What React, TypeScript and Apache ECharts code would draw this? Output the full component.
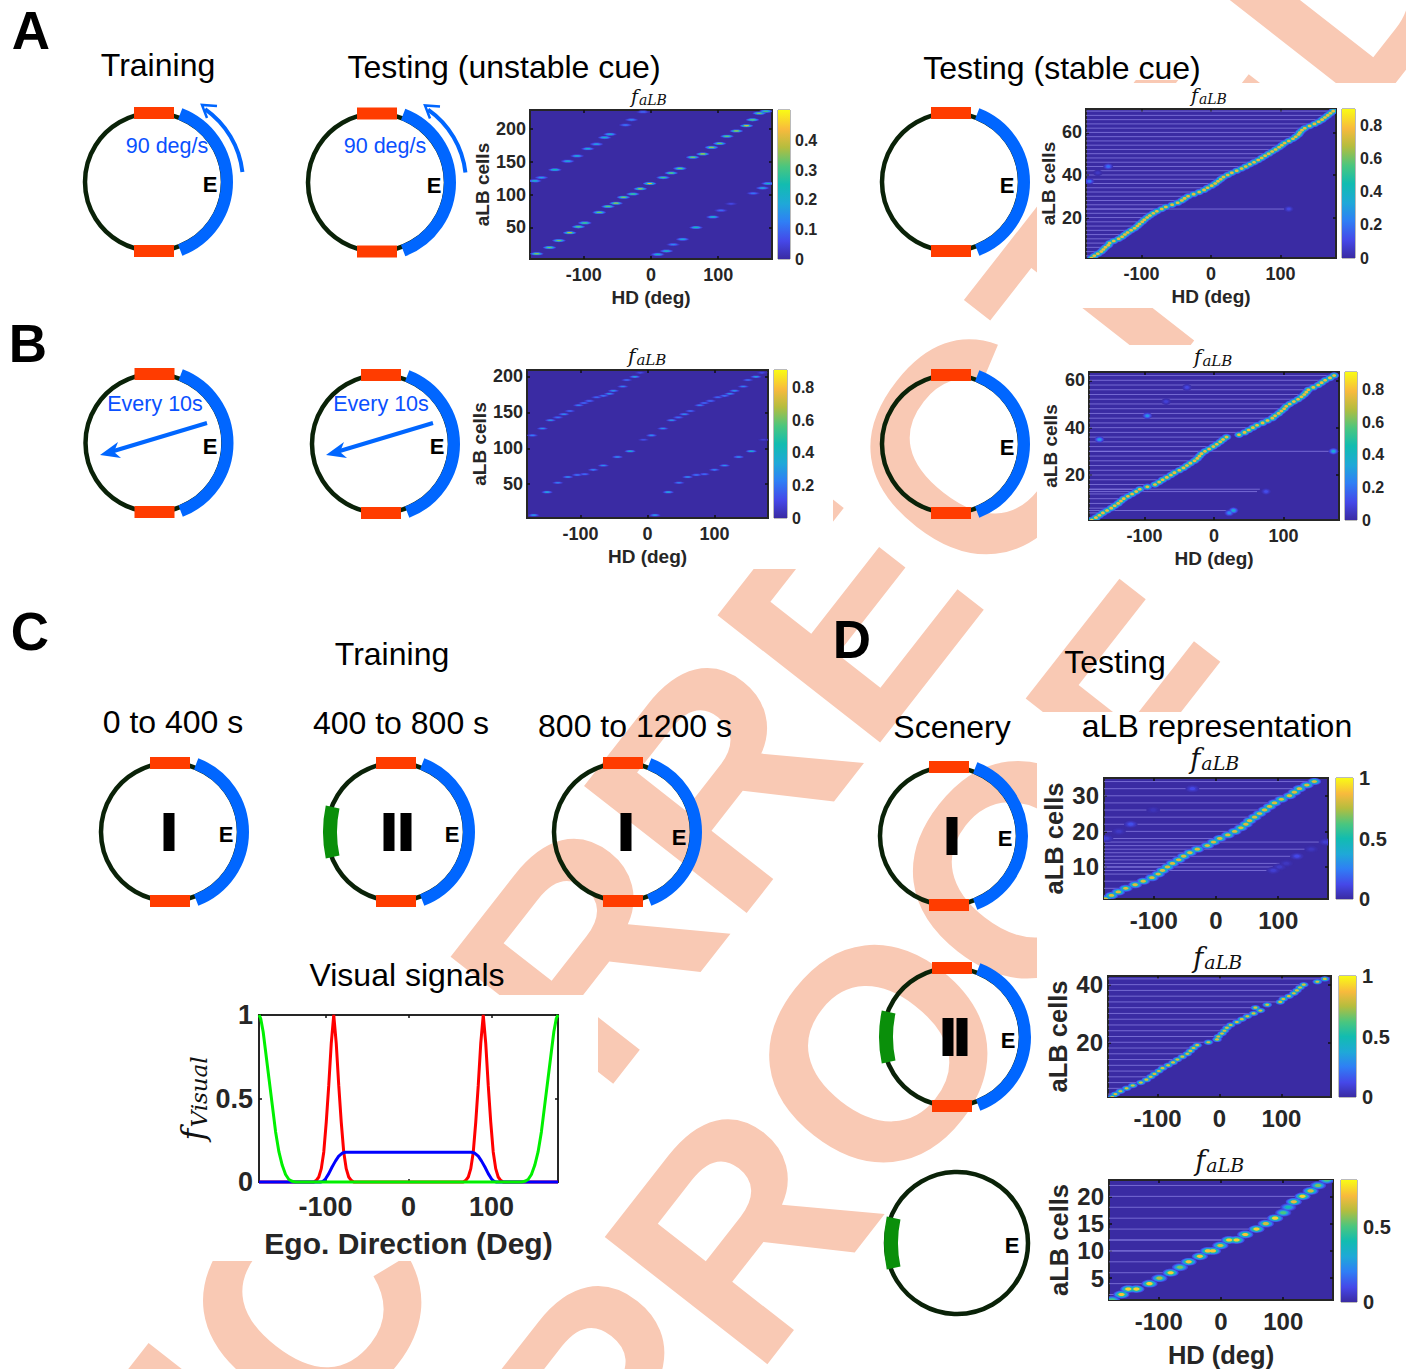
import React, { useEffect, useRef } from "react";
import * as echarts from "echarts";

const SANS = '"Liberation Sans", Arial, sans-serif';
const SERIF = '"DejaVu Serif", serif';

// ---------- data ----------
const hdTicks = [-100, 0, 100];

// A, unstable cue: [HD, cell, value]
const ridgeAU: number[][] = [
  [-170,10,.34],[-151,19.5,.33],[-137,30,.34],[-121,42,.38],[-108,51,.33],[-98.5,57,.3],[-77,73,.33],[-64,82,.32],[-52,87,.36],[-41,96,.35],[-27,101,.3],[-16,109,.38],[-2,117,.42],[18,126,.3],[30,133,.33],[43,140,.33],[62,157,.35],[77,162,.38],[90,172,.36],[102,178,.33],[113,189,.33],[127,197,.36],[142,205,.4],[151,214,.33],[161,224,.35],[171,227,.3],
  [10,9,.22],[23,14,.24],[33,24,.14],[47,32,.2],[67,50,.24],[92,66,.22],[104,76,.1],[119,86,.06],[152,102,.12],[166,110,.2],[174,117,.22],
  [-173,121,.22],[-163,126,.18],[-143,138,.25],[-124,151,.2],[-110,159,.2],[-94,170,.2],[-81,177,.18],[-69,187,.22],[-61,192,.22],[-38,206,.12],[-29,214,.14],[-12,226,.1],
];
// B, unstable cue: [HD, cell, value]
const ridgeBU: number[][] = [
  [-170,7,.3],[-150,39,.35],[-134,52,.25],[-119,60,.3],[-105,63,.22],[-94,64,.2],[-81,70,.25],[-66,76,.28],[-45,88,.3],[-26,96,.42],
  [-172,118,.22],[-157,127.5,.28],[-145,139,.3],[-134,143,.2],[-125,147.5,.28],[-116,152,.2],[-103,160,.25],[-95,163,.2],[-87,166,.2],[-76,171,.2],[-66,173,.22],[-57,176,.3],[-51,180,.3],[-37,186,.25],[-31,195,.2],[-19,199.5,.35],[-11,205,.12],
  [11,7,.3],[31,39,.35],[47,52,.25],[60,60,.3],[73,63,.22],[85,64,.2],[100,70,.25],[115,76,.28],[136,88,.3],[155,96,.42],
  [-6,112,.14],[6,118,.26],[23,127.5,.28],[36,139,.3],[46,143,.2],[55,147.5,.28],[64,152,.2],[78,160,.25],[85,163,.2],[94,166,.2],[105,171,.2],[115,173,.22],[123,176,.3],[130,180,.3],[143,186,.25],[150,195,.2],[162,199.5,.35],[171,205,.12],[173,112,.08],
];
// Stable panels: HD of the peak for cell 1, 2, 3 ...
const peakHdAS = [-172,-168,-163,-158,-155,-152,-148,-146,-140,-133,-128,-124,-120,-115,-110,-106,-103,-99,-96,-92,-88,-83,-78,-71,-65,-56,-48,-42,-38,-33,-25,-17,-10,-5,1,6,10,14,18,24,30,37,44,50,56,62,68,73,78,83,88,93,98,102,106,112,118,122,126,128,131,135,142,149,155,160,164,168,172,176];
const extraAS: number[][] = [[-148,44,.2],[-175,37,.2],[-163,41,.05],[112,24,.1]];
const peakHdBS = [-176,-170,-165,-160,-154,-148,-143,-138,-134,-130,-124,-118,-112,-107,-96,-85,-79,-74,-68,-62,-57,-50,-44,-39,-34,-28,-24,-21,-18,-13,-7,-1,4,9,13,18,36,44,50,56,62,70,77,84,88,93,97,101,104,109,115,121,126,130,133,136,143,150,155,160,167,173];
const extraBS: number[][] = [[-165,35,.3],[-96,45,.28],[172,30,.35],[28,5,.35],[22,4,.25],[-39,57,.1],[-69,51,.08],[75,13,.12]];
const peakHdD1 = [-178,-168,-157,-145,-130,-117,-103,-93,-86,-78,-70,-60,-52,-42,-30,-14,-4,6,19,30,40,48,54,62,70,78,86,94,105,118,126,134,146,158];
const extraD1: number[][] = [[-38,32,.12],[-137,22,.14],[-176,18,.08],[-156,20,.06],[-101,26,.04],[176,17,.08],[153,15,.05],[130,13,.12],[113,11,.05],[102,10,.06],[92,9,.08]];
const peakHdD2 = [-173,-168,-160,-150,-140,-127,-118,-111,-105,-98,-92,-83,-75,-68,-60,-52,-47,-42,-36,-18,-4,-2,4,8,12,18,28,36,45,55,66,58,77,98,103,112,120,125,130,136,158,170];
const ridgeD3: number[][] = [
  [-175,1,.5],[-160,2,.72],[-149,3,.74],[-136,3,.74],[-115,4,.74],[-99,5,.6],[-81,6,.74],[-66,7,.55],[-52,8,.72],[-34,9,.72],[-21,10,.72],[-13,10,.72],[-1,11,.65],[13,12,.74],[25,12,.74],[39,13,.72],[57,14,.74],[72,15,.65],[87,16,.74],[100,17,.5],[108,18,.4],[117,19,.68],[131,20,.74],[144,21,.65],[156,22,.55],[170,23,.5],
];

const visualRed: number[][] = [
  [-180,0],[-114,0],[-111,.01],[-108,.03],[-105,.08],[-102,.18],[-99,.36],[-96,.58],[-93,.83],[-90,1],[-87,.83],[-84,.58],[-81,.36],[-78,.18],[-75,.08],[-72,.03],[-69,.01],[-66,0],
  [66,0],[69,.01],[72,.03],[75,.08],[78,.18],[81,.36],[84,.58],[87,.83],[90,1],[93,.83],[96,.58],[99,.36],[102,.18],[105,.08],[108,.03],[111,.01],[114,0],[180,0],
];
const visualBlue: number[][] = [
  [-180,0],[-106,0],[-103,.004],[-100,.018],[-96,.05],[-92,.09],[-88,.125],[-84,.155],[-80,.172],[-76,.178],
  [76,.178],[80,.172],[84,.155],[88,.125],[92,.09],[96,.05],[100,.018],[103,.004],[106,0],[180,0],
];
const visualGreen: number[][] = [
  [-180,1],[-178,.98],[-175,.9],[-172,.78],[-168,.62],[-164,.46],[-160,.3],[-156,.18],[-152,.1],[-148,.045],[-144,.015],[-140,.004],[-136,0],
  [136,0],[140,.004],[144,.015],[148,.045],[152,.1],[156,.18],[160,.3],[164,.46],[168,.62],[172,.78],[175,.9],[178,.98],[180,1],
];

// ---------- colours ----------
const INK = "#262626";
const RING = "#0a2208";
const RED = "#ff3c00";
const BLUE = "#0066ff";
const GREEN = "#0a8f0a";
const WM = "#f9c9b4";
const parulaStops: [number, string][] = [
  [0, "#3a2ba3"], [.12, "#4548e8"], [.25, "#2f7ff5"], [.37, "#1fa8d8"], [.5, "#12bcb0"],
  [.62, "#4ac67f"], [.75, "#b5bd3e"], [.87, "#f8ba3d"], [1, "#f9fb15"],
];
function parula(t: number): string {
  const v = Math.max(0, Math.min(1, t));
  for (let i = 1; i < parulaStops.length; i++) {
    const [a, ca] = parulaStops[i - 1];
    const [b, cb] = parulaStops[i];
    if (v <= b) {
      const k = (v - a) / (b - a);
      const ch = (c: string, s: number) => parseInt(c.slice(s, s + 2), 16);
      const mix = (s: number) => Math.round(ch(ca, s) + (ch(cb, s) - ch(ca, s)) * k);
      return `rgb(${mix(1)},${mix(3)},${mix(5)})`;
    }
  }
  return "#f9fb15";
}

// ---------- option builders ----------
const grids: any[] = [];
const xAxes: any[] = [];
const yAxes: any[] = [];
const seriesList: any[] = [];
const LAYERS = [{ f: .14, s: 1 }, { f: .32, s: .82 }, { f: .58, s: .62 }, { f: 1, s: .4 }];

function frameAxes(idx: number, cfg: any) {
  const tick = { inside: true, length: cfg.tickLen, lineStyle: { color: "#111", width: 1.5 } };
  const line = { onZero: false, lineStyle: { color: INK, width: 2 } };
  const x = { gridIndex: idx, type: "value", min: cfg.xMin, max: cfg.xMax, splitLine: { show: false }, axisLine: line };
  const y = { gridIndex: idx, type: "value", min: cfg.yMin, max: cfg.yMax, splitLine: { show: false }, axisLine: line };
  const xi = xAxes.length, yi = yAxes.length;
  xAxes.push({
    ...x, position: "bottom",
    axisTick: { ...tick, customValues: cfg.xTicks },
    axisLabel: { customValues: cfg.xTicks, fontFamily: SANS, fontWeight: "bold", fontSize: cfg.font, color: INK, margin: cfg.xMargin },
    name: cfg.xName, nameLocation: "middle", nameGap: cfg.xNameGap,
    nameTextStyle: { fontFamily: SANS, fontWeight: "bold", fontSize: cfg.nameFont, color: INK, verticalAlign: "top" },
  });
  xAxes.push({ ...x, position: "top", axisTick: { ...tick, customValues: cfg.xTicks }, axisLabel: { show: false } });
  yAxes.push({
    ...y, position: "left",
    axisTick: { ...tick, customValues: cfg.yTicks },
    axisLabel: { customValues: cfg.yTicks, fontFamily: SANS, fontWeight: "bold", fontSize: cfg.font, color: INK, margin: cfg.yMargin },
    name: cfg.yName, nameLocation: "middle", nameGap: cfg.yNameGap, nameRotate: 90,
    nameTextStyle: { fontFamily: SANS, fontWeight: "bold", fontSize: cfg.nameFont, color: INK },
  });
  yAxes.push({ ...y, position: "right", axisTick: { ...tick, customValues: cfg.yTicks }, axisLabel: { show: false } });
  return { xi, yi };
}

function heatPanel(p: any) {
  const idx = grids.length;
  grids.push({ left: p.box[0], top: p.box[1], width: p.box[2] - p.box[0], height: p.box[3] - p.box[1], show: true, backgroundColor: parulaStops[0][1], borderColor: INK, borderWidth: 2 });
  const { xi, yi } = frameAxes(idx, {
    xMin: -180, xMax: 180, yMin: p.yMin, yMax: p.yMax, xTicks: hdTicks, yTicks: p.yTicks, tickLen: 3,
    font: p.font, nameFont: p.nameFont, xName: p.xName, yName: "aLB cells",
    xMargin: p.xMargin, yMargin: p.yMargin, xNameGap: p.xNameGap, yNameGap: p.yNameGap,
  });
  if (p.rows) {
    seriesList.push({
      type: "custom", xAxisIndex: xi, yAxisIndex: yi, clip: true, silent: true, z: 2, data: p.rows,
      renderItem: (_: any, api: any) => {
        const a = api.coord([-180, api.value(1)]);
        const b = api.coord([api.value(0), api.value(1)]);
        return { type: "line", shape: { x1: a[0], y1: a[1], x2: b[0], y2: b[1] }, style: { stroke: "rgba(140,130,228,0.72)", lineWidth: 1 } };
      },
    });
  }
  LAYERS.forEach((l, li) => {
    seriesList.push({
      type: "custom", xAxisIndex: xi, yAxisIndex: yi, clip: true, silent: true, z: 3 + li, data: p.points,
      renderItem: (_: any, api: any) => {
        const c = api.coord([api.value(0), api.value(1)]);
        const s = api.size([p.halfW, p.halfH]);
        const v = api.value(2);
        return { type: "ellipse", shape: { cx: c[0], cy: c[1], rx: s[0] * l.s, ry: s[1] * l.s }, style: { fill: parula((v * l.f) / p.cMax), stroke: "none" } };
      },
    });
  });
  colorBar(p);
}

function colorBar(p: any) {
  const idx = grids.length;
  const b = p.bar;
  grids.push({ left: b[0], top: p.box[1], width: b[1] - b[0], height: p.box[3] - p.box[1], show: true, borderColor: "#777", borderWidth: 1, backgroundColor: "transparent" });
  xAxes.push({ gridIndex: idx, type: "value", min: 0, max: 1, show: false });
  yAxes.push({
    gridIndex: idx, type: "value", min: 0, max: p.cMax, position: "right", splitLine: { show: false },
    axisLine: { show: false }, axisTick: { show: false },
    axisLabel: { customValues: p.barTicks, fontFamily: SANS, fontWeight: "bold", fontSize: p.barFont, color: INK, margin: p.barMargin },
  });
  const fill = new echarts.graphic.LinearGradient(0, 1, 0, 0, parulaStops.map(([offset, color]) => ({ offset, color })));
  seriesList.push({
    type: "custom", xAxisIndex: xAxes.length - 1, yAxisIndex: yAxes.length - 1, silent: true, z: 2, data: [[0, p.cMax]],
    renderItem: (_: any, api: any) => {
      const t = api.coord([0, api.value(1)]);
      const o = api.coord([1, api.value(0)]);
      return { type: "rect", shape: { x: t[0], y: t[1], width: o[0] - t[0], height: o[1] - t[1] }, style: { fill } };
    },
  });
}

const toPts = (hd: number[], v: number) => hd.map((h, i) => [h, i + 1, v]);
const toRows = (hd: number[]) => hd.map((h, i) => [h, i + 1]).filter((r) => r[1] % 2 === 0);

const smallA = { font: 18, nameFont: 19, xName: "HD (deg)", xMargin: 7, yMargin: 4, xNameGap: 29, yNameGap: 33, barFont: 16, barMargin: 5 };
heatPanel({ ...smallA, box: [530, 110, 772, 259], yMin: 2, yMax: 229, yTicks: [50, 100, 150, 200], bar: [778, 790], cMax: .505, barTicks: [0, .1, .2, .3, .4], points: ridgeAU, halfW: 10, halfH: 2.4 });
heatPanel({ ...smallA, yNameGap: 28, box: [1086, 109, 1336, 258], yMin: 1, yMax: 71, yTicks: [20, 40, 60], bar: [1342, 1355], cMax: .9, barTicks: [0, .2, .4, .6, .8], points: [...toPts(peakHdAS, .76), ...extraAS], rows: [...toRows(peakHdAS), [112, 24]], halfW: 7, halfH: 1.5 });
heatPanel({ ...smallA, yNameGap: 35, box: [527, 370, 768, 518], yMin: 3, yMax: 209, yTicks: [50, 100, 150, 200], bar: [774, 787], cMax: .91, barTicks: [0, .2, .4, .6, .8], points: ridgeBU, halfW: 8.5, halfH: 1.8 });
heatPanel({ ...smallA, yNameGap: 29, box: [1089, 372, 1339, 520], yMin: 1, yMax: 63.5, yTicks: [20, 40, 60], bar: [1345, 1357], cMax: .91, barTicks: [0, .2, .4, .6, .8], points: [...toPts(peakHdBS, .78), ...extraBS], rows: [...toRows(peakHdBS), [172, 30], [66, 14], [62, 13], [28, 5]], halfW: 7, halfH: 1.4 });

const smallD = { font: 24, nameFont: 25.5, xMargin: 9, yMargin: 5, xNameGap: 42, yNameGap: 37, barFont: 20, barMargin: 6 };
heatPanel({ ...smallD, box: [1104, 778, 1328, 899], yMin: 1, yMax: 35, yTicks: [10, 20, 30], bar: [1336, 1353], cMax: 1, barTicks: [0, .5, 1], points: [...toPts(peakHdD1, .82), ...extraD1], rows: [...toRows(peakHdD1), [176, 17], [153, 15], [130, 13], [113, 11], [102, 10], [92, 9]], halfW: 11, halfH: 1 });
heatPanel({ ...smallD, box: [1108, 976, 1331, 1097], yMin: 1, yMax: 43, yTicks: [20, 40], bar: [1339, 1356], cMax: 1, barTicks: [0, .5, 1], points: toPts(peakHdD2, .82), rows: toRows(peakHdD2), halfW: 8, halfH: .95 });
heatPanel({ ...smallD, xName: "HD (deg)", box: [1109, 1180, 1333, 1302], yMin: 1, yMax: 23, yTicks: [5, 10, 15, 20], bar: [1341, 1357], cMax: .81, barTicks: [0, .5], points: ridgeD3, rows: ridgeD3.filter((r) => r[1] % 2 === 0), halfW: 13, halfH: .72 });

// Visual signals plot
{
  const idx = grids.length;
  grids.push({ left: 259, top: 1015, width: 299, height: 167, show: true, borderColor: INK, borderWidth: 2, backgroundColor: "#fff" });
  const { xi, yi } = frameAxes(idx, {
    xMin: -180, xMax: 180, yMin: 0, yMax: 1, xTicks: hdTicks, yTicks: [0, .5, 1], tickLen: 3,
    font: 27, nameFont: 30, xName: "Ego. Direction (Deg)", yName: "",
    xMargin: 11, yMargin: 6, xNameGap: 46, yNameGap: 50,
  });
  const line = (color: string, data: number[][], z: number) => ({
    type: "line", xAxisIndex: xi, yAxisIndex: yi, data, showSymbol: false, silent: true, z, clip: false,
    lineStyle: { color, width: 3 },
  });
  seriesList.push(line("#ff0000", visualRed, 3), line("#0000ff", visualBlue, 4), line("#00f000", visualGreen, 5));
}

// ---------- drawn schematic ----------
const deg = (d: number) => (d * Math.PI) / 180;
const gfx: any[] = [];
function text(x: number, y: number, t: string, font: string, fill = "#000", align = "center", rotation = 0, z = 20) {
  gfx.push({ type: "text", x, y, rotation, z, silent: true, style: { text: t, font, fill, textAlign: align, textVerticalAlign: "middle", verticalAlign: "middle" } });
}
function arc(cx: number, cy: number, r: number, a: number, b: number, stroke: string, lineWidth: number, z = 11) {
  gfx.push({ type: "arc", z, silent: true, shape: { cx, cy, r, startAngle: deg(a), endAngle: deg(b), clockwise: true }, style: { stroke, lineWidth, fill: "none" } });
}
function ring(cx: number, cy: number, o: { cue?: boolean; green?: boolean; bars?: number[]; e: [number, number] }) {
  const cue = o.cue !== false;
  arc(cx, cy, cue ? 69 : 71, 0, 360, RING, 4.5, 10);
  if (cue) {
    arc(cx, cy, 73, -69, 69, BLUE, 12);
    gfx.push({ type: "rect", z: 12, silent: true, shape: { x: cx - 20, y: cy - 75, width: 40, height: 12 }, style: { fill: RED } });
    gfx.push({ type: "rect", z: 12, silent: true, shape: { x: cx - 20, y: cy + 63, width: 40, height: 12 }, style: { fill: RED } });
  }
  if (o.green) arc(cx + 54, cy, 120, 168, 192, GREEN, 14, 12);
  (o.bars || []).forEach((b) => gfx.push({ type: "rect", z: 12, silent: true, shape: { x: b - 5.5, y: cy - 19, width: 11, height: 38 }, style: { fill: "#000" } }));
  text(o.e[0], o.e[1], "E", `bold 22px ${SANS}`);
}
function spinArrow(cx: number, cy: number) {
  arc(cx, cy, 89, -55, -6.5, BLUE, 4);
  gfx.push({ type: "polyline", z: 12, silent: true, shape: { points: [[cx + 63, cy - 76], [cx + 48, cy - 77], [cx + 53, cy - 64]] }, style: { stroke: BLUE, lineWidth: 2.5, fill: "none" } });
}
function jumpArrow(x1: number, y1: number, x2: number, y2: number) {
  gfx.push({ type: "line", z: 12, silent: true, shape: { x1, y1, x2: x2 + 7, y2: y2 - 2 }, style: { stroke: BLUE, lineWidth: 4 } });
  gfx.push({ type: "polygon", z: 12, silent: true, shape: { points: [[x2, y2], [x2 + 18, y2 - 13], [x2 + 14, y2 - 3], [x2 + 21, y2 + 3]] }, style: { fill: BLUE } });
}
// math-style label: a large italic f with a lowered subscript, centred on (x, y)
function fAlb(x: number, y: number, big: number, sub: number, width: number, rotation = 0, name = "aLB") {
  const dir = [Math.cos(rotation), -Math.sin(rotation)];
  const down = [Math.sin(rotation), Math.cos(rotation)];
  const at = -width / 2 + big * 0.42;
  const px = x + dir[0] * at, py = y + dir[1] * at;
  const drop = big * 0.2;
  gfx.push({ type: "text", x: px, y: py, rotation, z: 20, silent: true, style: { text: "f", fontFamily: SERIF, fontStyle: "italic", fontSize: big, fill: "#111", textAlign: "right", verticalAlign: "middle", textVerticalAlign: "middle" } });
  gfx.push({ type: "text", x: px + down[0] * drop + dir[0], y: py + down[1] * drop + dir[1], rotation, z: 20, silent: true, style: { text: name, fontFamily: SERIF, fontStyle: "italic", fontSize: sub, fill: "#111", textAlign: "left", verticalAlign: "middle", textVerticalAlign: "middle" } });
}

// proof stamp behind the figure, and the white plates that cover it
const WMFONT = `bold 300px ${SANS}`;
gfx.push({ type: "text", x: 93, y: 1824, rotation: deg(52), z: -20, silent: true, style: { text: "UNCORRECTED", font: WMFONT, fill: WM, textAlign: "left", textVerticalAlign: "bottom", verticalAlign: "bottom" } });
gfx.push({ type: "text", x: 668, y: 1566, rotation: deg(52), z: -20, silent: true, style: { text: "PROOF", font: WMFONT, fill: WM, textAlign: "left", textVerticalAlign: "bottom", verticalAlign: "bottom" } });
[[0, 0, 833, 569], [833, 0, 385, 80], [0, 995, 598, 266], [1037, 83, 369, 225], [1037, 345, 369, 227], [1037, 712, 369, 657]].forEach(([x, y, width, height]) =>
  gfx.push({ type: "rect", z: -10, silent: true, shape: { x, y, width, height }, style: { fill: "#fff" } }),
);

// panel letters
const LETTER = `bold 53px ${SANS}`;
text(31, 30, "A", LETTER);
text(28, 343, "B", LETTER);
text(30, 631, "C", LETTER);
text(852, 639, "D", LETTER);

// headings
const HEAD = `32px ${SANS}`;
text(158, 65, "Training", HEAD);
text(504, 67, "Testing (unstable cue)", HEAD);
text(1062, 68, "Testing (stable cue)", HEAD);
text(392, 654, "Training", HEAD);
text(173, 722, "0 to 400 s", HEAD);
text(401, 723, "400 to 800 s", HEAD);
text(635, 726, "800 to 1200 s", HEAD);
text(1115, 662, "Testing", HEAD);
text(952, 727, "Scenery", HEAD);
text(1217, 726, "aLB representation", HEAD);
text(407, 975, "Visual signals", HEAD);

// rings
ring(154, 182, { e: [210, 184] });
ring(377, 182.5, { e: [434, 185] });
ring(951, 182, { e: [1007, 185] });
ring(154.5, 443, { e: [210, 446] });
ring(381, 444, { e: [437, 446] });
ring(951, 444, { e: [1007, 447] });
ring(170, 832, { e: [226, 834], bars: [169] });
ring(396, 832, { e: [452, 834], green: true, bars: [389, 406] });
ring(623, 832, { e: [679, 837], bars: [626] });
ring(949, 836, { e: [1005, 838], bars: [952] });
ring(952, 1037, { e: [1008, 1040], green: true, bars: [948, 962] });
ring(957, 1243, { cue: false, green: true, e: [1012, 1245] });

spinArrow(154, 182);
spinArrow(377, 182.5);
jumpArrow(207, 423, 100, 455);
jumpArrow(433, 423, 326, 455);
const BLUE_TEXT = `21.5px ${SANS}`;
text(167, 146, "90 deg/s", BLUE_TEXT, "#0a50ff");
text(385, 146, "90 deg/s", BLUE_TEXT, "#0a50ff");
text(155, 404, "Every 10s", BLUE_TEXT, "#0a50ff");
text(381, 404, "Every 10s", BLUE_TEXT, "#0a50ff");

fAlb(651, 96, 19, 14, 42);
fAlb(1211, 95, 19, 14, 42);
fAlb(648, 356, 20, 15, 42);
fAlb(1214, 357, 20, 15, 42);
fAlb(1216, 758, 27, 19, 54);
fAlb(1219, 957, 27, 19, 54);
fAlb(1221, 1160, 27, 19, 54);
fAlb(193, 1098, 32, 23, 88, Math.PI / 2, "Visual");

const option: any = {
  animation: false,
  backgroundColor: "#fff",
  grid: grids,
  xAxis: xAxes,
  yAxis: yAxes,
  series: seriesList,
  graphic: { elements: gfx },
};

export default function App() {
  const ref = useRef<HTMLDivElement>(null);
  useEffect(() => {
    document.body.style.margin = "0";
    const chart = echarts.init(ref.current!, undefined, { renderer: "svg" });
    chart.setOption(option);
    return () => chart.dispose();
  }, []);
  return <div ref={ref} style={{ position: "absolute", left: 0, top: 0, width: 1406, height: 1369 }} />;
}
